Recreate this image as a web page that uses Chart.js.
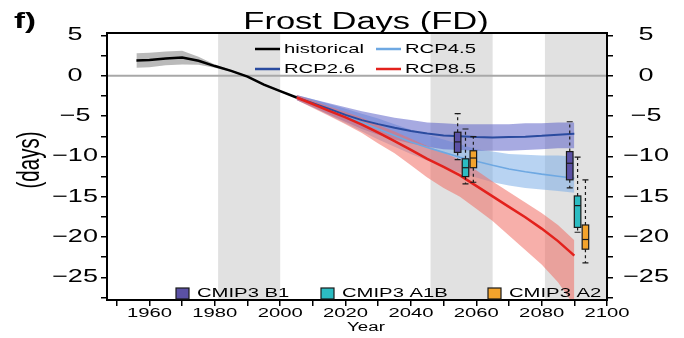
<!DOCTYPE html>
<html>
<head>
<meta charset="utf-8">
<title>Frost Days (FD)</title>
<script src="https://cdn.jsdelivr.net/npm/chart.js@4.4.1/dist/chart.umd.min.js"></script>
<style>
  html, body { margin: 0; padding: 0; background: #fff; }
  #wrap { position: relative; width: 684px; height: 338px; }
</style>
</head>
<body>
<div id="wrap"><canvas id="fd"></canvas></div>
<script>
// Frost day anomalies (days) relative to 1981-2000
const histYears = [1956, 1960, 1965, 1970, 1975, 1980, 1985, 1990, 1995, 2000, 2005];
const histMean  = [1.9, 1.95, 2.15, 2.25, 1.85, 1.2, 0.6, -0.1, -1.1, -1.9, -2.7];
const histHigh  = [2.8, 2.85, 3.0, 3.1, 2.35, 1.4, 0.7, 0.0, -1.0, -1.8, -2.6];
const histLow   = [1.0, 1.05, 1.3, 1.4, 1.35, 1.0, 0.5, -0.2, -1.2, -2.0, -2.8];

const projYears = [2005, 2010, 2015, 2020, 2025, 2030, 2035, 2040, 2045, 2050, 2055, 2060, 2065, 2070, 2075, 2080, 2085, 2090];

const rcp26Mean = [-2.7, -3.4, -4.1, -4.85, -5.5, -6.0, -6.45, -6.85, -7.15, -7.4, -7.5, -7.6, -7.65, -7.6, -7.55, -7.45, -7.3, -7.2];
const rcp26High = [-2.4, -2.9, -3.4, -3.9, -4.4, -4.8, -5.2, -5.5, -5.8, -5.9, -6.0, -6.0, -6.0, -6.0, -5.9, -5.9, -5.8, -5.8];
const rcp26Low  = [-3.0, -3.9, -4.8, -5.7, -6.6, -7.3, -7.9, -8.4, -8.8, -9.1, -9.2, -9.3, -9.3, -9.3, -9.2, -9.1, -9.0, -9.0];

const rcp45Mean = [-2.7, -3.4, -4.2, -5.0, -5.8, -6.6, -7.4, -8.2, -8.9, -9.5, -10.1, -10.6, -11.1, -11.55, -11.9, -12.2, -12.45, -12.7];
const rcp45High = [-2.4, -2.9, -3.5, -4.1, -4.7, -5.3, -6.0, -6.7, -7.3, -7.9, -8.5, -9.1, -9.4, -9.7, -9.8, -9.9, -9.9, -10.0];
const rcp45Low  = [-3.0, -3.9, -4.9, -5.9, -6.9, -7.9, -8.8, -9.7, -10.5, -11.3, -12.0, -12.6, -13.2, -13.6, -13.9, -14.1, -14.3, -14.5];

const rcp85Mean = [-2.7, -3.5, -4.35, -5.15, -6.05, -7.05, -8.1, -9.2, -10.3, -11.3, -12.35, -13.65, -14.95, -16.25, -17.55, -18.95, -20.5, -22.3];
const rcp85High = [-2.4, -3.1, -3.8, -4.5, -5.2, -6.1, -6.9, -7.8, -8.7, -9.5, -10.4, -11.7, -13.1, -14.4, -15.7, -17.0, -18.5, -20.4];
const rcp85Low  = [-3.0, -4.0, -5.0, -6.0, -7.1, -8.4, -9.6, -11.1, -12.6, -13.9, -15.0, -16.5, -18.0, -19.8, -21.6, -23.4, -25.6, -28.5];

// CMIP3 box plots for 2046-2065 and 2081-2100
const cmip3Names  = ['CMIP3 B1', 'CMIP3 A1B', 'CMIP3 A2'];
const cmip3Colors = ['#5b51a5', '#2cbcc2', '#f3a32c'];
const boxKind  = [0, 1, 2, 0, 1, 2];
const boxYears = [2054.3, 2056.7, 2059.1, 2088.6, 2091.0, 2093.4];
const boxMin   = [-10.4, -13.4, -13.2, -13.9, -19.4, -23.2];
const boxQ1    = [-9.5, -12.5, -11.4, -12.9, -18.8, -21.5];
const boxMed   = [-8.2, -11.4, -10.2, -10.85, -16.1, -20.3];
const boxQ3    = [-7.0, -10.3, -9.3, -9.4, -14.9, -18.5];
const boxMax   = [-4.7, -6.6, -7.55, -5.7, -10.1, -12.9];

// grey reference periods
const shadeStart = [1981, 2046, 2081];
const shadeEnd   = [2000, 2065, 2100];

const xTickLabels = [1960, 1980, 2000, 2020, 2040, 2060, 2080, 2100];
const yTickLabels = [5, 0, -5, -10, -15, -20, -25];

const seriesNames  = ['historical', 'RCP2.6', 'RCP4.5', 'RCP8.5'];
const seriesColors = ['#000000', '#2a4b9f', '#6ea8e2', '#e3211c'];

function pts(xs, ys) {
  return xs.map((x, i) => ({ x: x, y: ys[i] }));
}

const FONT = '"Liberation Sans", Arial, Helvetica, sans-serif';
const SX = 1.5; // text is drawn wide, like the rest of the figure

function wideText(ctx, str, x, y, size, align, weight) {
  ctx.save();
  ctx.font = (weight || 'normal') + ' ' + size + 'px ' + FONT;
  ctx.textBaseline = 'middle';
  ctx.textAlign = align;
  ctx.fillStyle = '#000';
  ctx.translate(x, y);
  ctx.scale(SX, 1);
  ctx.fillText(str, 0, 0);
  ctx.restore();
}

function fmt(v) {
  return v < 0 ? '\u2212' + Math.abs(v) : String(v);
}

const decor = {
  id: 'decor',
  beforeDatasetsDraw(chart) {
    const { ctx, chartArea: a } = chart;
    const x = chart.scales.x, y = chart.scales.y;
    ctx.save();
    ctx.fillStyle = '#e1e1e1';
    shadeStart.forEach((s, i) => {
      const x0 = x.getPixelForValue(s), x1 = x.getPixelForValue(shadeEnd[i]);
      ctx.fillRect(x0, a.top, x1 - x0, a.bottom - a.top);
    });
    const y0 = y.getPixelForValue(0);
    ctx.strokeStyle = '#a8a8a8';
    ctx.lineWidth = 2;
    ctx.beginPath();
    ctx.moveTo(a.left, y0);
    ctx.lineTo(a.right, y0);
    ctx.stroke();
    ctx.restore();
  },
  afterDatasetsDraw(chart) {
    const { ctx, chartArea: a } = chart;
    const x = chart.scales.x, y = chart.scales.y;
    ctx.save();
    boxYears.forEach((yr, i) => {
      const cx = x.getPixelForValue(yr);
      const half = x.getPixelForValue(yr + 1) - cx;
      const pMax = y.getPixelForValue(boxMax[i]);
      const pQ3 = y.getPixelForValue(boxQ3[i]);
      const pMed = y.getPixelForValue(boxMed[i]);
      const pQ1 = y.getPixelForValue(boxQ1[i]);
      const pMin = y.getPixelForValue(boxMin[i]);
      ctx.strokeStyle = '#1a1a1a';
      ctx.lineWidth = 1.2;
      ctx.setLineDash([3, 3]);
      ctx.beginPath();
      ctx.moveTo(cx, pQ3); ctx.lineTo(cx, pMax);
      ctx.moveTo(cx, pQ1); ctx.lineTo(cx, pMin);
      ctx.stroke();
      ctx.setLineDash([]);
      ctx.beginPath();
      ctx.moveTo(cx - 3, pMax); ctx.lineTo(cx + 3, pMax);
      ctx.moveTo(cx - 3, pMin); ctx.lineTo(cx + 3, pMin);
      ctx.stroke();
      ctx.fillStyle = cmip3Colors[boxKind[i]];
      ctx.fillRect(cx - half, pQ3, 2 * half, pQ1 - pQ3);
      ctx.strokeRect(cx - half, pQ3, 2 * half, pQ1 - pQ3);
      ctx.beginPath();
      ctx.moveTo(cx - half, pMed); ctx.lineTo(cx + half, pMed);
      ctx.stroke();
    });
    // plot frame
    ctx.strokeStyle = '#000';
    ctx.lineWidth = 2;
    ctx.strokeRect(a.left, a.top, a.right - a.left, a.bottom - a.top);
    ctx.restore();
  },
  afterDraw(chart) {
    const { ctx, chartArea: a } = chart;
    const x = chart.scales.x, y = chart.scales.y;

    wideText(ctx, 'f)', 14, 22, 22, 'left', 'bold');
    wideText(ctx, 'Frost Days (FD)', 366, 23, 23, 'center');

    yTickLabels.forEach(v => {
      const py = y.getPixelForValue(v);
      wideText(ctx, fmt(v), 75, py, 18, 'center');
      wideText(ctx, fmt(v), 646, py, 18, 'center');
    });
    xTickLabels.forEach(v => {
      wideText(ctx, String(v), x.getPixelForValue(v), 313, 13.5, 'center');
    });
    wideText(ctx, 'Year', 366, 328, 12.5, 'center');

    // rotated axis title
    ctx.save();
    ctx.translate(31, 160);
    ctx.rotate(-Math.PI / 2);
    ctx.scale(1, SX);
    ctx.font = '20.5px ' + FONT;
    ctx.textAlign = 'center';
    ctx.textBaseline = 'middle';
    ctx.fillStyle = '#000';
    ctx.fillText('(days)', 0, 0);
    ctx.restore();

    // line legend, two columns
    const legCols = [255, 376];
    const legRows = [49, 69];
    const legOrder = [0, 2, 1, 3];
    legOrder.forEach((s, k) => {
      const lx = legCols[k % 2], ly = legRows[Math.floor(k / 2)];
      ctx.save();
      ctx.strokeStyle = seriesColors[s];
      ctx.lineWidth = 2.5;
      ctx.beginPath();
      ctx.moveTo(lx, ly); ctx.lineTo(lx + 25, ly);
      ctx.stroke();
      ctx.restore();
      wideText(ctx, seriesNames[s], lx + 29, ly, 13.5, 'left');
    });

    // box legend along the bottom
    const boxLegX = [176, 321, 488];
    cmip3Names.forEach((name, k) => {
      ctx.save();
      ctx.fillStyle = cmip3Colors[k];
      ctx.strokeStyle = '#1a1a1a';
      ctx.lineWidth = 1.2;
      ctx.fillRect(boxLegX[k], 288, 13, 11);
      ctx.strokeRect(boxLegX[k], 288, 13, 11);
      ctx.restore();
      wideText(ctx, name, boxLegX[k] + 21, 293.5, 13.5, 'left');
    });
  }
};

const lineDs = (data, color, width, order) => ({
  data: data, borderColor: color, borderWidth: width, pointRadius: 0,
  fill: false, order: order, tension: 0
});
const bandDs = (data, color, order) => ({
  data: data, borderWidth: 0, pointRadius: 0, backgroundColor: color,
  fill: '+1', order: order, tension: 0
});
const edgeDs = (data, order) => ({
  data: data, borderWidth: 0, pointRadius: 0, fill: false, order: order, tension: 0
});

const tickGrid = {
  drawOnChartArea: false, drawTicks: true, tickLength: 6,
  color: '#000', lineWidth: 1.5
};

new Chart(document.getElementById('fd'), {
  type: 'line',
  data: {
    datasets: [
      lineDs(pts(histYears, histMean), seriesColors[0], 2.5, 0),
      lineDs(pts(projYears, rcp85Mean), seriesColors[3], 2.5, 1),
      lineDs(pts(projYears, rcp26Mean), seriesColors[1], 2, 2),
      lineDs(pts(projYears, rcp45Mean), seriesColors[2], 1.6, 3),
      bandDs(pts(projYears, rcp85High), 'rgba(240,110,100,0.55)', 10),
      edgeDs(pts(projYears, rcp85Low), 10),
      bandDs(pts(projYears, rcp26High), 'rgba(95,100,200,0.55)', 11),
      edgeDs(pts(projYears, rcp26Low), 11),
      bandDs(pts(projYears, rcp45High), 'rgba(125,175,232,0.55)', 12),
      edgeDs(pts(projYears, rcp45Low), 12),
      bandDs(pts(histYears, histHigh), 'rgba(140,140,140,0.6)', 13),
      edgeDs(pts(histYears, histLow), 13)
    ]
  },
  options: {
    responsive: true,
    maintainAspectRatio: false,
    animation: false,
    devicePixelRatio: 1,
    layout: { padding: { top: 33, left: 0, right: 0, bottom: 0 } },
    plugins: { legend: { display: false }, tooltip: { enabled: false }, title: { display: false } },
    scales: {
      x: {
        type: 'linear', position: 'bottom', min: 1947, max: 2100,
        afterFit: s => { s.height = 38; },
        ticks: { display: false, stepSize: 10, includeBounds: false },
        grid: tickGrid,
        border: { display: false }
      },
      y: {
        type: 'linear', position: 'left', min: -27.8, max: 5.3,
        afterFit: s => { s.width = 107; },
        ticks: { display: false, stepSize: 2.5, includeBounds: false },
        grid: tickGrid,
        border: { display: false }
      },
      y2: {
        type: 'linear', position: 'right', min: -27.8, max: 5.3,
        afterFit: s => { s.width = 77; },
        ticks: { display: false, stepSize: 2.5, includeBounds: false },
        grid: tickGrid,
        border: { display: false }
      }
    }
  },
  plugins: [decor]
});
</script>
</body>
</html>
